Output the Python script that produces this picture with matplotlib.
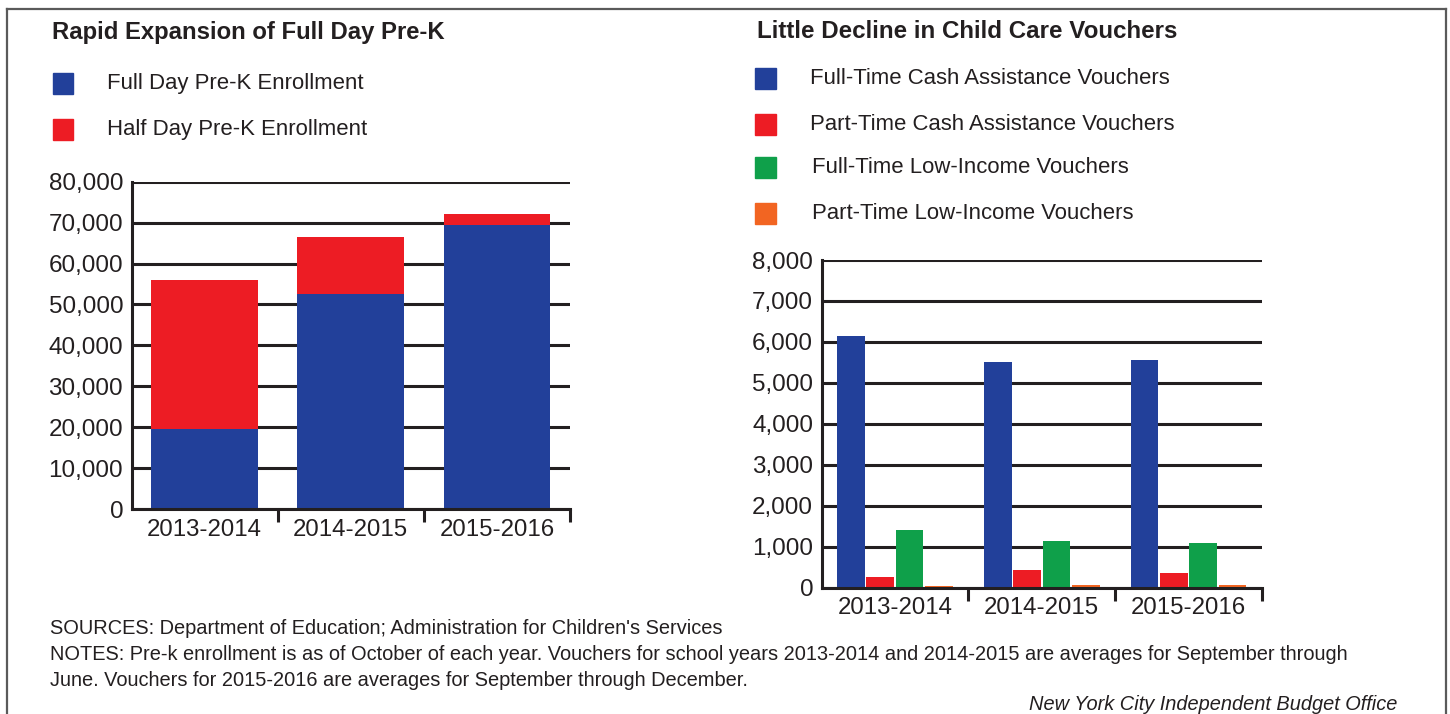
import matplotlib
matplotlib.use("Agg")
import matplotlib.pyplot as plt
from matplotlib.lines import Line2D
from matplotlib.patches import Rectangle
import numpy as np

plt.rcParams['font.family'] = ['Liberation Sans', 'DejaVu Sans']

# ---------------- data ----------------
years = ["2013-2014", "2014-2015", "2015-2016"]

prek_full = [19600, 52600, 69300]
prek_half = [36300, 14000, 2750]
prek_labels = ["Full Day Pre-K Enrollment", "Half Day Pre-K Enrollment"]
prek_ticks = [0, 10000, 20000, 30000, 40000, 50000, 60000, 70000, 80000]

ft_cash = [6140, 5500, 5570]
pt_cash = [270, 430, 360]
ft_low = [1410, 1150, 1085]
pt_low = [40, 65, 60]
voucher_labels = ["Full-Time Cash Assistance Vouchers",
                  "Part-Time Cash Assistance Vouchers",
                  "Full-Time Low-Income Vouchers",
                  "Part-Time Low-Income Vouchers"]
voucher_ticks = [0, 1000, 2000, 3000, 4000, 5000, 6000, 7000, 8000]

title_left = "Rapid Expansion of Full Day Pre-K"
title_right = "Little Decline in Child Care Vouchers"
source_text = "SOURCES: Department of Education; Administration for Children's Services"
notes_1 = ("NOTES: Pre-k enrollment is as of October of each year. Vouchers for school years "
           "2013-2014 and 2014-2015 are averages for September through")
notes_2 = "June. Vouchers for 2015-2016 are averages for September through December."
credit = "New York City Independent Budget Office"

# ---------------- style ----------------
BLUE = "#22409A"
RED = "#ED1C24"
GREEN = "#0FA04A"
ORANGE = "#F26522"
TXT = "#231F20"
GRID = "#231F20"

W, H = 1450, 714
fig = plt.figure(figsize=(W / 100, H / 100), dpi=100)


def px_axes(x0, y_top, x1, y_bot):
    return fig.add_axes([x0 / W, 1 - y_bot / H, (x1 - x0) / W, (y_bot - y_top) / H])


def fx(x):
    return x / W


def fy(y):
    return 1 - y / H


def style_axes(ax, ticks, ymax):
    ax.set_xlim(-0.5, 2.5)
    ax.set_ylim(0, ymax)
    ax.set_yticks(ticks)
    ax.set_yticklabels([f"{t:,}" for t in ticks], fontsize=17.5, color=TXT)
    ax.tick_params(axis='y', length=0, pad=6)
    ax.set_xticks([0, 1, 2])
    ax.set_xticklabels(years, fontsize=17.3, color=TXT)
    ax.tick_params(axis='x', which='major', length=0, pad=7)
    ax.set_xticks([0.5, 1.5, 2.5], minor=True)
    ax.tick_params(axis='x', which='minor', length=9, width=2.2, color=GRID)
    ax.yaxis.grid(True, color=GRID, linewidth=2.2)
    ax.set_axisbelow(True)
    for s in ['top', 'right']:
        ax.spines[s].set_visible(False)
    ax.spines['left'].set_color(GRID)
    ax.spines['left'].set_linewidth(2.2)
    ax.spines['bottom'].set_color(GRID)
    ax.spines['bottom'].set_linewidth(2.2)
    ax.spines['bottom'].set_zorder(5)


# ---------------- left chart ----------------
axL = px_axes(131.5, 181.7, 570, 509)
x = np.arange(len(years))
axL.bar(x, prek_full, width=0.73, color=BLUE, zorder=3)
axL.bar(x, prek_half, width=0.73, bottom=prek_full, color=RED, zorder=3)
style_axes(axL, prek_ticks, 80000)

# ---------------- right chart ----------------
axR = px_axes(821.5, 260, 1262, 587.7)
series = [ft_cash, pt_cash, ft_low, pt_low]
colors = [BLUE, RED, GREEN, ORANGE]
offsets = [-0.3, -0.1, 0.1, 0.3]
for vals, c, off in zip(series, colors, offsets):
    axR.bar(x + off, vals, width=0.188, color=c, zorder=3)
style_axes(axR, voucher_ticks, 8000)

# ---------------- titles & legends ----------------
fig.text(fx(52), fy(32), title_left, fontsize=17.2, fontweight='bold', color=TXT,
         ha='left', va='center')
fig.text(fx(757), fy(32), title_right, fontsize=17.4, fontweight='bold', color=TXT,
         ha='left', va='center')

left_leg_y = [83.5, 129.5]
for lab, c, yy in zip(prek_labels, [BLUE, RED], left_leg_y):
    fig.patches.append(Rectangle((fx(53), fy(yy + 10.5)), 20 / W, 21 / H,
                                 transform=fig.transFigure, color=c))
    fig.text(fx(107), fy(yy), lab, fontsize=15.9, color=TXT, ha='left', va='center')

right_leg_y = [78.5, 124.5, 167.5, 213.5]
right_text_x = [810, 810, 812, 812]
for lab, c, yy, tx in zip(voucher_labels, colors, right_leg_y, right_text_x):
    fig.patches.append(Rectangle((fx(755), fy(yy + 10.5)), 21 / W, 21 / H,
                                 transform=fig.transFigure, color=c))
    fig.text(fx(tx), fy(yy), lab, fontsize=15.9, color=TXT, ha='left', va='center')

# ---------------- footer ----------------
fig.text(fx(50), fy(628), source_text, fontsize=14.4, color=TXT, ha='left', va='center')
fig.text(fx(50), fy(654), notes_1, fontsize=14.4, color=TXT, ha='left', va='center')
fig.text(fx(50), fy(680), notes_2, fontsize=14.4, color=TXT, ha='left', va='center')
fig.text(fx(1397), fy(704), credit, fontsize=14.4, color=TXT, ha='right', va='center',
         style='italic')

# ---------------- border ----------------
bc = "#5a5a5a"
fig.add_artist(Line2D([fx(7), fx(7)], [0, fy(9)], color=bc, lw=1.6))
fig.add_artist(Line2D([fx(7), fx(1446)], [fy(9), fy(9)], color=bc, lw=1.6))
fig.add_artist(Line2D([fx(1446), fx(1446)], [fy(9), 0], color=bc, lw=1.6))

fig.savefig("out.png", dpi=100, facecolor='white')
